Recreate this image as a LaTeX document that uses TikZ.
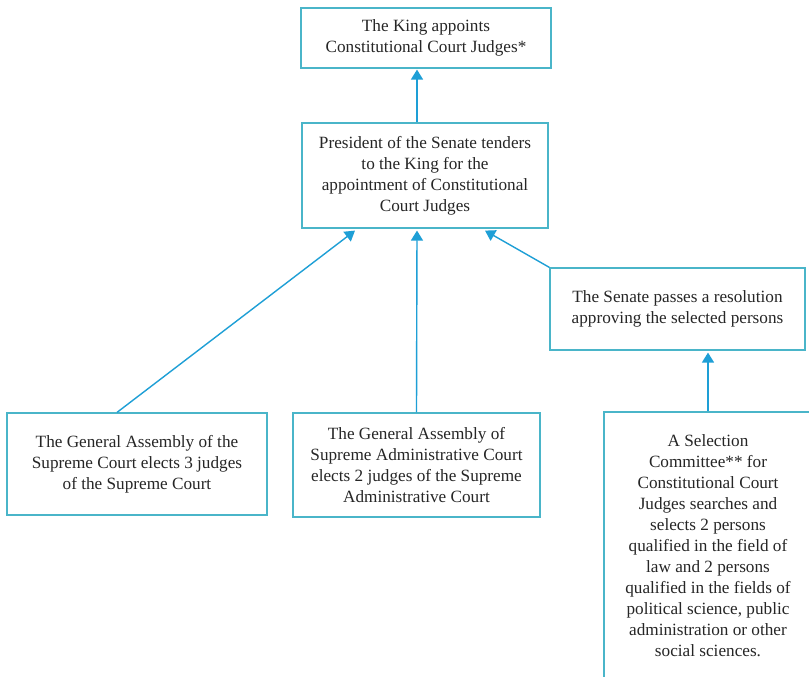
\documentclass[tikz,border=0pt]{standalone}
\usepackage{fontspec}
\setmainfont{Liberation Serif}
\usetikzlibrary{arrows.meta}
\definecolor{boxline}{HTML}{4AB5C9}
\definecolor{arrowblue}{HTML}{1E9FD6}
\begin{document}
\begin{tikzpicture}[x=1pt,y=-1pt,
  box/.style={draw=boxline,line width=1.2pt,align=center,inner sep=0pt,
    font=\fontsize{17.2}{21}\selectfont,text=black!85},
  flow/.style={draw=arrowblue,line width=1.4pt,-{Triangle[length=10pt,width=12pt]}}]
\useasboundingbox (0,0) rectangle (809,677);
\clip (0,0) rectangle (809,677);
\fill[white] (0,0) rectangle (809,677);
\node[box,minimum width=250pt,minimum height=60pt] (king) at (426,38)
  {The King appoints\\Constitutional Court Judges*};
\node[box,minimum width=246pt,minimum height=105pt] (pres) at (425,175.5)
  {President of the Senate tenders\\to the King for the\\appointment of Constitutional\\Court Judges};
\node[box,minimum width=255pt,minimum height=82pt] (senate) at (677.5,309)
  {The Senate passes a resolution\\approving the selected persons};
\node[box,minimum width=260pt,minimum height=102pt] (sc) at (137,464)
  {The General Assembly of the\\Supreme Court elects 3 judges\\of the Supreme Court};
\node[box,minimum width=247pt,minimum height=104pt] (sac) at (416.5,465)
  {The General Assembly of\\Supreme Administrative Court\\elects 2 judges of the Supreme\\Administrative Court};
\node[box,minimum width=208pt,minimum height=267pt] (sel) at (708,545.5)
  {A Selection\\Committee** for\\Constitutional Court\\Judges searches and\\selects 2 persons\\qualified in the field of\\law and 2 persons\\qualified in the fields of\\political science, public\\administration or other\\social sciences.};
\draw[flow] ([xshift=-8pt]pres.north) -- ([xshift=-9pt,yshift=-1pt]king.south);
\draw[flow] ([xshift=-20pt]sc.north) -- ([xshift=-70pt,yshift=-2pt]pres.south);
\draw[flow] (sac.north) -- ([xshift=-8pt,yshift=-2pt]pres.south);
\draw[flow] (senate.north west) -- ([xshift=60pt,yshift=-2pt]pres.south);
\draw[flow] (sel.north) -- ([xshift=30.5pt,yshift=-2pt]senate.south);
\end{tikzpicture}
\end{document}
